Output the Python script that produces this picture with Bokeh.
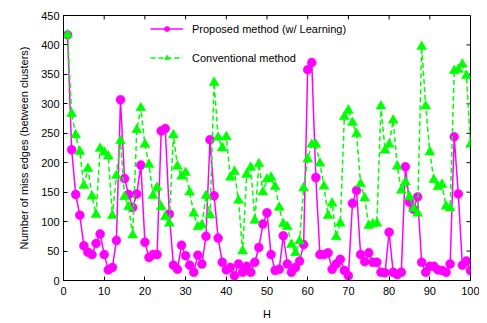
from bokeh.plotting import figure
from bokeh.models import Legend, LegendItem, FixedTicker, Range1d
from bokeh.embed import file_html
from bokeh.resources import INLINE

H = list(range(1, 101))
proposed = [417, 222, 146, 111, 59, 48, 44, 63, 79, 44,
            18, 22, 68, 307, 173, 146, 124, 147, 196, 65,
            39, 44, 44, 254, 258, 113, 26, 19, 60, 42,
            26, 14, 43, 28, 75, 239, 144, 72, 31, 18,
            22, 8, 28, 14, 24, 14, 31, 56, 96, 115,
            44, 17, 19, 76, 28, 14, 22, 33, 61, 358,
            370, 175, 44, 44, 47, 19, 28, 36, 17, 8,
            131, 153, 44, 32, 47, 31, 31, 14, 13, 82,
            14, 10, 14, 193, 133, 121, 142, 31, 14, 24,
            24, 18, 17, 14, 28, 244, 147, 26, 33, 17]
conventional = [417, 283, 247, 219, 161, 190, 143, 112, 224, 218,
                211, 110, 178, 237, 142, 125, 77, 256, 293, 231,
                197, 144, 158, 125, 108, 97, 247, 194, 177, 183,
                150, 114, 91, 94, 144, 111, 336, 243, 225, 244,
                175, 185, 136, 50, 180, 192, 102, 198, 150, 172,
                175, 159, 124, 96, 91, 61, 47, 67, 157, 206,
                231, 231, 199, 160, 110, 131, 74, 97, 278, 289,
                268, 249, 164, 140, 93, 96, 97, 296, 221, 231,
                272, 194, 153, 167, 142, 122, 114, 397, 296, 218,
                171, 159, 163, 126, 123, 356, 358, 367, 348, 231]
x_ticks = list(range(0, 101, 10))
y_ticks = list(range(0, 451, 50))
labels = ["Proposed method (w/ Learning)", "Conventional method"]

FONT = "Liberation Sans"
MAG = "#FF00FF"
GRN = "#00FF00"
XMIN, XMAX, YMIN, YMAX = 0, 100, 0, 450

p = figure(width=479, height=322, output_backend="svg", toolbar_location=None,
           x_range=Range1d(XMIN, XMAX), y_range=Range1d(YMIN, YMAX),
           min_border_left=63, min_border_right=9, min_border_top=15, min_border_bottom=37)
p.grid.visible = False
p.outline_line_color = "black"
p.outline_line_width = 1

# mirrored inward ticks on top and right (no labels)
tick_dx = (XMAX - XMIN) * 4 / 407
tick_dy = (YMAX - YMIN) * 4 / 270
p.segment(x0=x_ticks, y0=[YMAX] * len(x_ticks), x1=x_ticks,
          y1=[YMAX - tick_dy] * len(x_ticks), line_color="black", line_width=1)
p.segment(x0=[XMAX] * len(y_ticks), y0=y_ticks, x1=[XMAX - tick_dx] * len(y_ticks),
          y1=y_ticks, line_color="black", line_width=1)

r1l = p.line(H, proposed, line_color=MAG, line_width=1.5)
r1m = p.scatter(H, proposed, marker="circle", size=9, fill_color=MAG, line_color=MAG, line_width=0.5)
r2l = p.line(H, conventional, line_color=GRN, line_width=1.5, line_dash="5 3")
r2m = p.scatter(H, conventional, marker="triangle", size=10, fill_color=GRN, line_color=GRN, line_width=0.5)

for ax in (p.xaxis[0], p.yaxis[0]):
    ax.major_tick_in = 4
    ax.major_tick_out = 0
    ax.minor_tick_line_color = None
    ax.axis_line_color = "black"
    ax.major_tick_line_color = "black"
    ax.major_label_text_font = FONT
    ax.major_label_text_font_size = "11px"
    ax.major_label_text_color = "black"
    ax.axis_label_text_font = FONT
    ax.axis_label_text_font_size = "11px"
    ax.axis_label_text_font_style = "normal"
    ax.axis_label_text_color = "black"

p.xaxis.ticker = FixedTicker(ticks=x_ticks)
p.yaxis.ticker = FixedTicker(ticks=y_ticks)
p.xaxis.axis_label = "H"
p.yaxis.axis_label = "Number of miss edges (between clusters)"
p.xaxis.major_label_standoff = 6
p.xaxis.axis_label_standoff = 10
p.yaxis.major_label_standoff = 4
p.yaxis.axis_label_standoff = 8

legend = Legend(items=[LegendItem(label=labels[0], renderers=[r1l, r1m]),
                       LegendItem(label=labels[1], renderers=[r2l, r2m])],
                location=(87, 216))
legend.border_line_color = None
legend.background_fill_alpha = 0
legend.padding = 0
legend.margin = 0
legend.spacing = 16
legend.label_height = 13
legend.glyph_height = 13
legend.glyph_width = 33
legend.label_standoff = 9
legend.label_text_font = FONT
legend.label_text_font_size = "11px"
legend.label_text_color = "black"
p.add_layout(legend, "center")

open("out.html", "w").write(file_html(p, INLINE))
